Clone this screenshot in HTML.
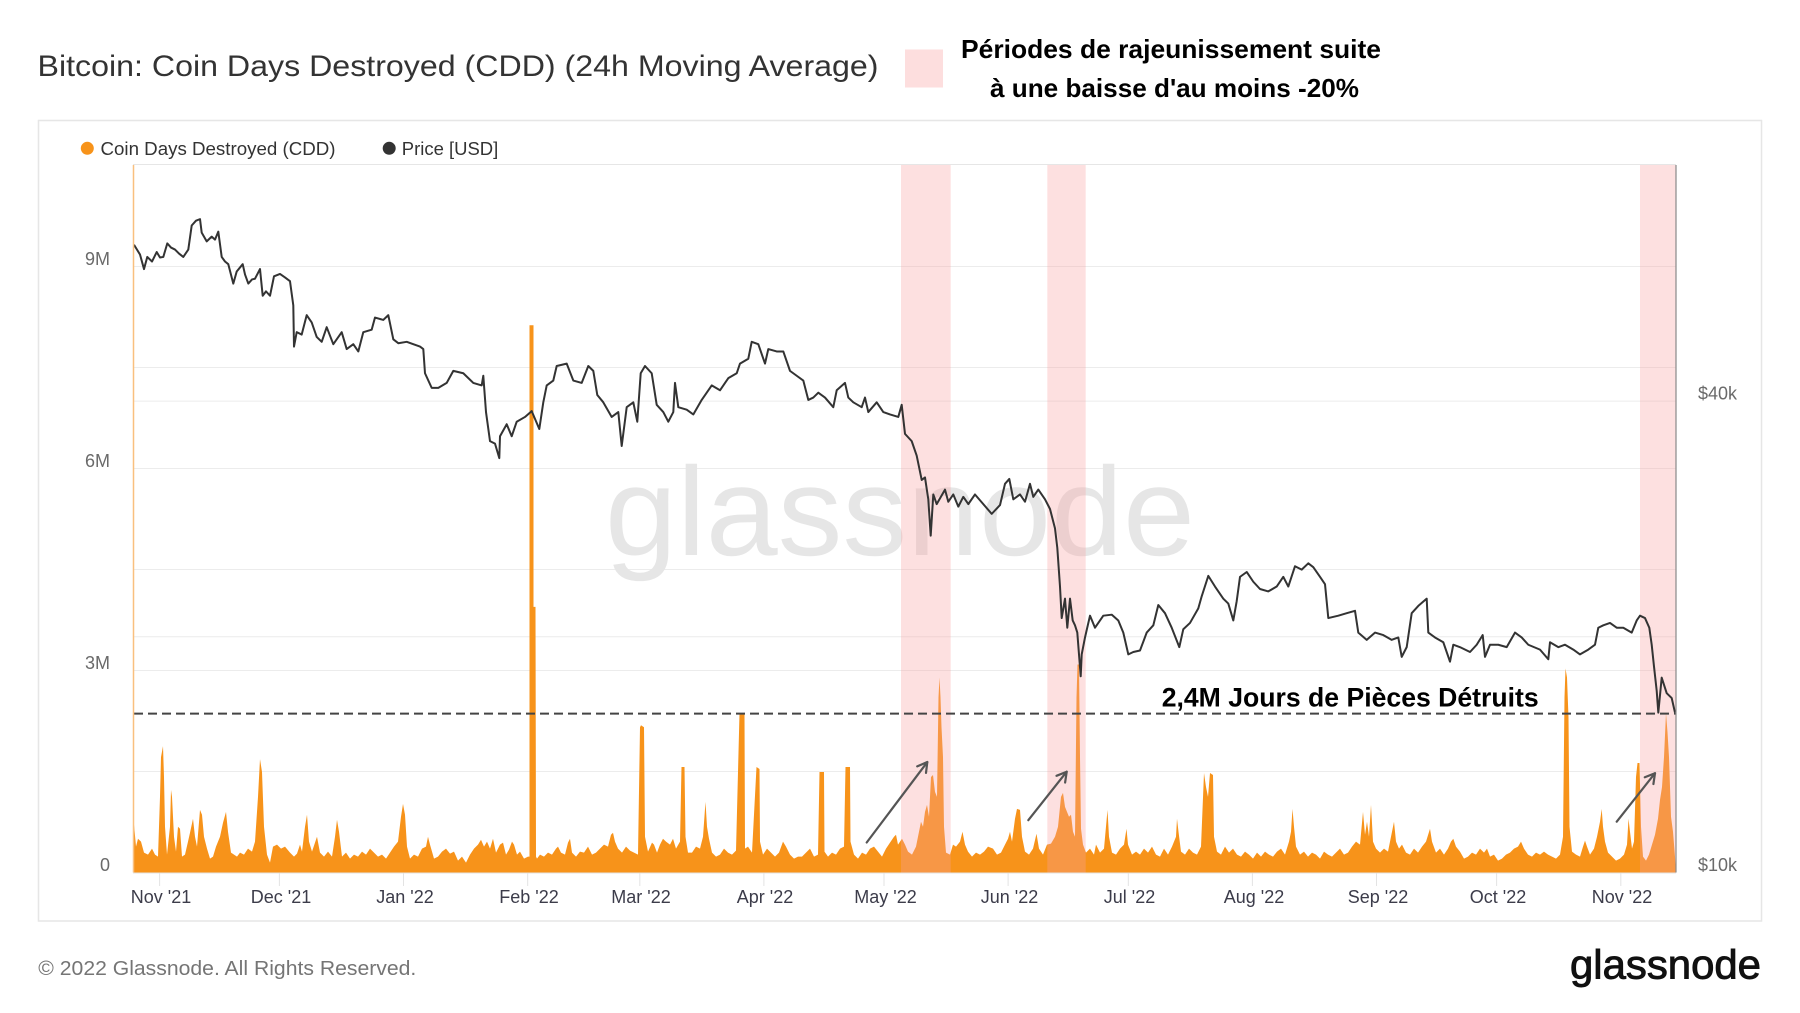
<!DOCTYPE html>
<html><head><meta charset="utf-8"><style>
html,body{margin:0;padding:0;background:#fff;}
svg{display:block;}
text{font-family:"Liberation Sans",Arial,sans-serif;}
</style></head><body>
<svg width="1800" height="1013" viewBox="0 0 1800 1013" xmlns="http://www.w3.org/2000/svg">
<rect x="0" y="0" width="1800" height="1013" fill="#fff"/>
<!-- title -->
<text x="37.5" y="76" font-size="30" fill="#333" textLength="841" lengthAdjust="spacingAndGlyphs">Bitcoin: Coin Days Destroyed (CDD) (24h Moving Average)</text>
<rect x="905" y="49.5" width="38" height="38" fill="#fddede"/>
<text x="961" y="58" font-size="26" font-weight="bold" fill="#000" textLength="420" lengthAdjust="spacingAndGlyphs">Périodes de rajeunissement suite</text>
<text x="990" y="97" font-size="26" font-weight="bold" fill="#000" textLength="369" lengthAdjust="spacingAndGlyphs">à une baisse d'au moins -20%</text>
<!-- box -->
<rect x="38.5" y="120.5" width="1723" height="800.5" fill="none" stroke="#e6e6e6" stroke-width="1.5"/>
<!-- legend -->
<circle cx="87.3" cy="148.3" r="6.5" fill="#f7931a"/>
<text x="100.5" y="155" font-size="18" fill="#333" textLength="235" lengthAdjust="spacingAndGlyphs">Coin Days Destroyed (CDD)</text>
<circle cx="389.2" cy="148.3" r="6.5" fill="#333"/>
<text x="401.8" y="155" font-size="18" fill="#333" textLength="96.5" lengthAdjust="spacingAndGlyphs">Price [USD]</text>
<!-- gridlines -->
<g stroke="#ececec" stroke-width="1">
<line x1="134" y1="771.5" x2="1676" y2="771.5"/>
<line x1="134" y1="670.5" x2="1676" y2="670.5"/>
<line x1="134" y1="569.5" x2="1676" y2="569.5"/>
<line x1="134" y1="468.5" x2="1676" y2="468.5"/>
<line x1="134" y1="367.5" x2="1676" y2="367.5"/>
<line x1="134" y1="266.5" x2="1676" y2="266.5"/>
<line x1="134" y1="636.8" x2="1676" y2="636.8"/>
<line x1="134" y1="401.1" x2="1676" y2="401.1"/>
</g>
<line x1="133" y1="164.5" x2="1676" y2="164.5" stroke="#e6e6e6" stroke-width="1"/>
<!-- watermark -->
<text x="605" y="555" font-size="126" fill="#e6e6e6" textLength="590" lengthAdjust="spacingAndGlyphs">glassnode</text>
<!-- traced content group (vertical correction) -->
<g transform="matrix(1 0 0 0.99515 0 0.776)">
<path fill="#f7931a" d="M134,876 L134,828 136,850 138,842 141,845 144,856 148,858 152,852 155,858 158,860 160,800 161,760 163,749 164,780 165,830 167,858 170,830 171,793 172,800 174,840 176,855 178,830 180,832 182,860 185,858 188,845 190,836 193,822 195,840 197,850 200,813 202,818 204,840 207,852 210,862 213,860 216,850 220,840 223,826 226,815 228,835 231,856 234,858 237,860 240,856 244,858 248,852 252,855 255,845 258,800 260,762 262,775 264,830 267,858 270,866 273,850 277,848 281,852 285,850 290,856 294,860 297,857 300,848 302,855 305,830 307,818 309,845 312,855 315,846 317,840 320,856 324,860 328,855 332,860 335,840 337,823 339,835 342,860 346,856 350,862 354,858 358,860 362,855 366,858 370,852 374,856 378,860 382,858 386,862 390,856 394,850 398,845 401,820 403,807 405,818 407,850 410,862 414,858 418,860 422,852 426,850 428,840 430,848 434,862 438,860 442,855 446,852 450,857 454,855 458,864 462,860 466,866 470,858 474,852 478,848 481,843 484,850 487,845 490,852 493,842 496,856 500,848 503,846 506,858 509,853 512,845 514,848 517,858 520,855 524,862 528,860 529.5,860 529.5,326 533.5,326 533.5,609 535.5,609 536,860 537,862 540,858 544,860 548,856 552,858 556,852 558,850 561,856 565,858 568,846 570,842 572,856 576,860 580,855 584,856 588,850 592,858 596,856 600,852 604,848 608,850 611,838 613,836 615,845 618,852 622,856 626,850 630,854 634,856 638,858 640,730 641,728 644,730 645,840 648,855 652,846 654,848 657,856 660,848 663,842 666,845 670,848 673,842 676,852 680,845 681.5,770 684.5,770 685.5,840 688,856 692,856 696,850 700,852 703,840 705.5,805 707,830 709,842 712,856 716,860 720,858 724,852 728,856 732,858 736,854 739.5,716 744.5,716 745,852 748,850 752,856 756.5,770 759.5,772 760,845 763,858 767,852 771,856 775,860 779,856 783,845 786,850 790,858 794,862 798,860 802,860 806,856 810,852 814,860 818,858 819.5,775 824,775 824.5,855 828,860 832,856 836,858 840,852 844,850 845.5,770 850,770 850.5,845 854,858 858,862 862,856 866,858 870,852 874,850 878,855 882,860 886,852 890,846 894,840 896,838 898,848 902,842 905,848 908,855 912,858 916,850 919,835 921,825 923,830 925,815 927,808 929,820 931,780 933,778 935,795 937,800 938.5,700 939.5,680 940.5,700 941.5,730 943,760 944,830 946,856 950,858 953,848 956,850 960,845 962.5,835 965,848 968,855 972,860 976,856 980,858 984,855 988,850 993,852 997,858 1001,856 1005,848 1008,842 1010,835 1012,845 1015,822 1017,812 1020,813 1022,840 1025,855 1029,858 1033,852 1036.5,837 1039,852 1043,858 1047,848 1051,847 1055,840 1058,830 1061,800 1063,796 1065,810 1067,815 1069,820 1071,818 1073,835 1075,840 1076.5,700 1077.5,667 1079,667 1080,760 1081,832 1083,848 1086,856 1090,852 1094,858 1096,848 1100,856 1104,852 1107.5,813 1109,840 1112,856 1116,858 1120,852 1124,848 1126.5,832 1128,848 1132,858 1136,855 1140,858 1144,852 1148,856 1152,850 1156,858 1160,860 1164,852 1168,858 1172,850 1176,840 1177,822 1178.5,835 1181,855 1185,858 1189,852 1193,856 1197,858 1201,850 1204,776 1206,790 1208,800 1210,776 1213,778 1214,840 1217,855 1221,858 1225,850 1229,856 1233,852 1237,858 1241,860 1245,855 1249,858 1253,862 1257,856 1261,860 1265,855 1269,858 1273,860 1277,855 1281,852 1285,858 1289,845 1291,835 1292.5,812 1294,830 1296,850 1300,858 1304,855 1308,860 1312,856 1316,858 1320,862 1324,855 1328,858 1332,860 1336,856 1340,852 1344,858 1348,856 1352,850 1356,845 1360,848 1363,815 1365,838 1367,825 1369,840 1371,808 1373,845 1376,852 1380,856 1384,852 1388,855 1391,840 1394,825 1396,845 1399,852 1402,848 1406,856 1410,858 1414,852 1418,856 1422,850 1426,845 1430,832 1432,845 1436,856 1440,852 1444,858 1448,852 1451,845 1453.3,842 1456,850 1460,855 1464,862 1468,860 1472,856 1476,858 1480,852 1484,856 1487,852 1490,860 1494,858 1498,864 1502,862 1506,858 1510,856 1514,852 1518,850 1521,845 1524,852 1528,858 1532,860 1536,856 1540,858 1544,855 1548,858 1552,860 1556,862 1560,858 1563,840 1564.5,700 1565.5,671 1567,680 1568.5,720 1569.5,830 1572,855 1576,858 1580,860 1583,850 1585,844 1587,850 1590,858 1594,852 1597,840 1600,825 1601.7,812 1603,830 1605,845 1608,856 1612,860 1616,864 1620,862 1624,858 1627,848 1628.5,822 1630,835 1632,852 1634,845 1636,780 1637.5,766 1639.5,766 1641,830 1643,860 1646,864 1649,858 1652,848 1655,838 1658,822 1660,803 1662,790 1664,760 1666,716 1667.5,735 1669,760 1671,820 1673,835 1675,860 1676,876 Z"/>
</g>
<!-- pink bands -->
<g fill="rgba(250,160,160,0.33)">
<rect x="901" y="165" width="49.7" height="707.5"/>
<rect x="1047.3" y="165" width="38.4" height="707.5"/>
<rect x="1640" y="165" width="36" height="707.5"/>
</g>
<g transform="matrix(1 0 0 0.99515 0 0.776)">
<line x1="134" y1="716.3" x2="1676" y2="716.3" stroke="#444" stroke-width="2" stroke-dasharray="9,5"/>
<polyline fill="none" stroke="#333" stroke-width="2" stroke-linejoin="round" points="134,245.2 140,255 144,269.6 147.3,257.4 152,262 156.7,252.5 160,258 163.3,257.4 167.3,243.8 171,248 175,250 179,254 183.3,257.4 188.3,250 191.7,225.8 196,221 200,219.4 201.7,233 206.7,241.8 211.7,237 215,240 218.3,232 221.7,257.4 225,262 228.3,264.7 233.3,284.2 236.7,272 242.7,264.7 245,275 248.3,284.2 252,280 255,279.3 260,269.6 262.7,296.4 266,292 270,296.4 274,276.9 280,274.5 285,278 290,281.8 293.3,306.1 294,347.5 296.7,333 301.7,335.4 306.7,315.9 311.7,323.2 316.7,337.8 321.7,342.7 326.7,328 333.3,345.1 341.7,333 346.7,350 353.3,345.1 358.3,352.4 363.3,333 371.7,330.5 375,318.3 383.3,320.7 388.3,315.9 393.3,340.2 398.3,344.1 406.7,342.7 413.3,345.1 420,347.5 423.3,350 425,374.3 431.7,389 438.3,389 446.7,384 453.3,371.9 463.3,374.3 473.3,384 481.7,386.5 483.3,376.8 486,413.3 490,442.5 495,445 499.3,459.6 500,437.6 506.7,425.5 511.7,437.6 516.7,423 525,418.2 531.7,412.3 539.3,430.3 543.3,403.5 546.7,386.5 553.3,381.6 556.7,367 566.7,364.6 573.3,381.6 581.7,384 588.3,367 593.3,371.9 597.3,396.2 603.3,403.5 611.7,418.2 618.3,413.3 621.7,447.4 626.7,408.4 633.3,403.5 637.3,423 640.7,374.3 645,367 651.7,374.3 656.7,406 663.3,413.3 668.3,423 673.3,413.3 675,384 678.3,408.4 686.7,410.9 693.3,415.7 701.7,401.1 711.7,386.5 720,391.4 728.3,379.2 736.7,374.3 740,364.6 748.3,359.7 751.7,342.7 758.3,345.1 765,364.6 768.3,350 776.7,352.4 783.3,352.4 790,371.9 796.7,376.8 803.3,381.6 808.3,401.1 813.3,398.7 818.3,393.8 825,398.7 833.3,408.4 836.7,391.4 845,384 848.3,398.7 853.3,403.5 861.7,408.4 865,398.7 868.3,413.3 876.7,403.5 883.3,413.3 890,415.7 898.3,418.2 901.7,406 905,435.2 911.7,442.5 916.7,457.1 921.7,481.5 925,479 928.3,501 930.7,537.5 933.3,496.1 936.7,505.8 945,491.2 948.3,503.4 953.3,496.1 958.3,508.3 963.3,498.5 968.3,505.8 975,496.1 983.3,505.8 991.7,515.6 1000,506.8 1005,485.4 1009.3,480.5 1013.3,501 1020,496.1 1025,503.4 1030,485.4 1033.3,498.5 1038.3,491.2 1045,501 1050,510.7 1055,530.2 1057.3,549.7 1060,588.6 1061.7,620.3 1065,600.8 1067.3,630 1070,600.8 1072.7,622.7 1075,627.6 1077.3,634.9 1080.7,678.8 1081.7,656.8 1085,639.8 1090,617.9 1095,630 1103.3,617.9 1111.7,616.9 1118.3,622.7 1123.3,634.9 1128.3,656.8 1133.3,654.4 1140,652.9 1146.7,634.9 1153.3,627.6 1158.3,607.2 1165,615.4 1171.7,630 1179.3,649.5 1183.3,631.5 1190,625.2 1198.3,610.6 1201.7,598.4 1208.3,577.9 1215,588.6 1223.3,600.8 1228.3,605.7 1233.3,622.7 1236.7,603.3 1240,578.9 1246.7,574 1253.3,583.8 1260,591.1 1268.3,593.5 1276.7,588.6 1283.3,578.9 1288.3,588.6 1295,568.2 1301.7,571.6 1308.3,565.3 1313.3,569.2 1320,578.9 1325,586.2 1328.3,620.3 1338.3,617.9 1346.7,615.4 1355,613 1358.3,634.9 1366.7,642.2 1375,634.9 1383.3,637.4 1391.7,642.2 1398.3,639.8 1401.7,659.3 1406.7,649.5 1411.7,615.4 1418.3,608.1 1426.7,600.8 1428.3,634.9 1435,639.8 1443.3,644.6 1450,664.1 1453.3,647.1 1460,649.5 1470,654.4 1476.7,647.1 1482.7,637.4 1485,659.3 1490,647.1 1498.3,647.1 1506.7,649.5 1515,634.9 1521.7,639.8 1528.3,647.1 1540,652 1548.3,661.7 1550,644.6 1558.3,649.5 1565,647.1 1573.3,652 1580,656.8 1588.3,652 1595,647.1 1598.3,630 1603.3,627.6 1610,625.2 1616.7,630 1623.3,630 1631.7,634.9 1636.7,622.7 1640,617.9 1645,620.3 1649.3,630 1651.7,647.1 1654,669 1656.7,693.4 1658.3,715.3 1661.7,680.2 1666.7,695.8 1671.7,700.7 1675,715.3"/>
<text x="1161.7" y="709.4" font-size="27" font-weight="bold" fill="#000" textLength="377" lengthAdjust="spacingAndGlyphs">2,4M Jours de Pièces Détruits</text>
<g stroke="#555" stroke-width="2.2" fill="none" stroke-linecap="round" stroke-linejoin="round">
<line x1="866.7" y1="845.8" x2="927.3" y2="765"/>
<polyline points="917.2,769.3 927.3,765 926,775.9"/>
<line x1="1028.3" y1="823.4" x2="1066.7" y2="774.7"/>
<polyline points="1056.5,778.8 1066.7,774.7 1065.1,785.6"/>
<line x1="1616.7" y1="824.9" x2="1655" y2="776.2"/>
<polyline points="1644.8,780.3 1655,776.2 1653.4,787.1"/>
</g>
</g>
<!-- axes -->
<line x1="133.5" y1="165" x2="133.5" y2="872.5" stroke="#f9c07f" stroke-width="1.5"/>
<line x1="1676" y1="165" x2="1676" y2="872.5" stroke="#888" stroke-width="1.2"/>
<line x1="133" y1="873" x2="1676" y2="873" stroke="#e3e3e3" stroke-width="1"/>
<g stroke="#e3e3e3" stroke-width="1">
<line x1="159.6" y1="873" x2="159.6" y2="886"/>
<line x1="279.4" y1="873" x2="279.4" y2="886"/>
<line x1="403.5" y1="873" x2="403.5" y2="886"/>
<line x1="527.7" y1="873" x2="527.7" y2="886"/>
<line x1="639.8" y1="873" x2="639.8" y2="886"/>
<line x1="763.9" y1="873" x2="763.9" y2="886"/>
<line x1="884" y1="873" x2="884" y2="886"/>
<line x1="1008.1" y1="873" x2="1008.1" y2="886"/>
<line x1="1128.3" y1="873" x2="1128.3" y2="886"/>
<line x1="1252.4" y1="873" x2="1252.4" y2="886"/>
<line x1="1376.5" y1="873" x2="1376.5" y2="886"/>
<line x1="1496.6" y1="873" x2="1496.6" y2="886"/>
<line x1="1620.8" y1="873" x2="1620.8" y2="886"/>
</g>
<g font-size="18" fill="#3c3c4a" text-anchor="middle">
<text x="161" y="903">Nov '21</text>
<text x="281" y="903">Dec '21</text>
<text x="405" y="903">Jan '22</text>
<text x="529" y="903">Feb '22</text>
<text x="641" y="903">Mar '22</text>
<text x="765" y="903">Apr '22</text>
<text x="885.5" y="903">May '22</text>
<text x="1009.5" y="903">Jun '22</text>
<text x="1129.5" y="903">Jul '22</text>
<text x="1254" y="903">Aug '22</text>
<text x="1378" y="903">Sep '22</text>
<text x="1498" y="903">Oct '22</text>
<text x="1622" y="903">Nov '22</text>
</g>
<g font-size="18" fill="#6a6a6a" text-anchor="end">
<text x="110" y="265">9M</text>
<text x="110" y="467">6M</text>
<text x="110" y="669">3M</text>
<text x="110" y="871">0</text>
</g>
<g font-size="18" fill="#6a6a6a">
<text x="1698" y="399.5">$40k</text>
<text x="1698" y="871">$10k</text>
</g>
<!-- footer -->
<text x="38.3" y="975" font-size="20" fill="#757575" textLength="378" lengthAdjust="spacingAndGlyphs">© 2022 Glassnode. All Rights Reserved.</text>
<text x="1570" y="978.3" font-size="41" fill="#111" stroke="#111" stroke-width="0.9" textLength="191" lengthAdjust="spacingAndGlyphs">glassnode</text>
</svg>
</body></html>
